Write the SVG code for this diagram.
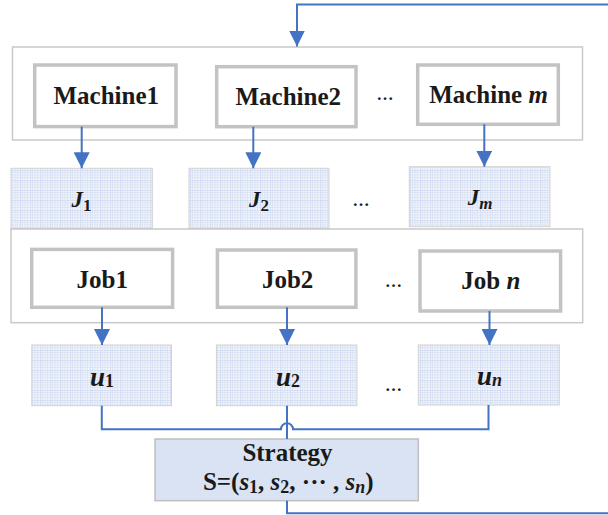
<svg xmlns="http://www.w3.org/2000/svg" width="608" height="515" viewBox="0 0 608 515">
  <defs>
    <style>
      .frame { fill: #ffffff; stroke: #c9c9c9; stroke-width: 1.5; }
      .unit { fill: #ffffff; stroke: #c3c3c3; stroke-width: 3.5; }
      .grid { fill: url(#mesh); stroke: #d2d2d2; stroke-width: 1; }
      .strat { fill: #dae3f3; stroke: #bfbfbf; stroke-width: 1.5; }
      .lbl { font-family: 'Liberation Serif', 'Times New Roman', serif; font-weight: bold; fill: #1a1a1a; text-anchor: middle; }
      .big { font-size: 25px; }
      .var { font-size: 23px; font-style: italic; }
      .uvar { font-size: 27px; font-style: italic; }
      .dots { font-family: 'Liberation Serif', serif; font-weight: bold; font-size: 17px; fill: #1a1a1a; text-anchor: middle; }
      .wire { fill: none; stroke: #4472c4; stroke-width: 2; }
      .arrow { fill: none; stroke: #4472c4; stroke-width: 2; marker-end: url(#head); }
    </style>
    <marker id="head" viewBox="0 0 16 16" refX="16" refY="8" markerWidth="16" markerHeight="16" markerUnits="userSpaceOnUse" orient="auto">
      <path d="M0,0 L16,8 L0,16 Z" fill="#4472c4"/>
    </marker>
    <!-- fine blue mesh used by the J and u blocks -->
    <pattern id="mesh" width="10" height="10" patternUnits="userSpaceOnUse">
      <rect width="10" height="10" fill="#eff3fb"/>
      <path d="M2.5,0 V10 M5,0 V10 M7.5,0 V10 M0,2.5 H10 M0,5 H10 M0,7.5 H10" stroke="#d3ddf1" stroke-width="0.6"/>
      <path d="M0,0 V10 M0,0 H10" stroke="#bfcdea" stroke-width="0.9"/>
    </pattern>
  </defs>

  <!-- machine layer -->
  <g id="machine-layer">
    <rect class="frame" x="12.5" y="47" width="570" height="93"/>
  </g>
  <g id="machine1">
    <rect class="unit" x="34.7" y="65" width="141.3" height="61.6"/>
    <text class="lbl big" x="106.3" y="104">Machine1</text>
  </g>
  <g id="machine2">
    <rect class="unit" x="216.7" y="66.7" width="139.3" height="60"/>
    <text class="lbl big" x="288.3" y="105">Machine2</text>
  </g>
  <text class="dots" x="385" y="100">…</text>
  <g id="machine-m">
    <rect class="unit" x="417.7" y="65" width="140.6" height="59.3"/>
    <text class="lbl big" x="488.5" y="103.3">Machine <tspan font-style="italic">m</tspan></text>
  </g>

  <!-- job queues J -->
  <g id="j1">
    <rect class="grid" x="11" y="168.3" width="141.3" height="60"/>
    <text class="lbl var" x="81.5" y="206.7">J<tspan font-style="normal" font-size="17" dy="4">1</tspan></text>
  </g>
  <g id="j2">
    <rect class="grid" x="189" y="168.3" width="140" height="60"/>
    <text class="lbl var" x="259" y="206.7">J<tspan font-style="normal" font-size="17" dy="4">2</tspan></text>
  </g>
  <text class="dots" x="361" y="206">…</text>
  <g id="jm">
    <rect class="grid" x="409.3" y="166.7" width="140.7" height="60"/>
    <text class="lbl var" x="480" y="205">J<tspan font-size="17" dy="4">m</tspan></text>
  </g>

  <!-- job layer -->
  <g id="job-layer">
    <rect class="frame" x="11" y="229" width="571.7" height="93.7"/>
  </g>
  <g id="job1">
    <rect class="unit" x="31.7" y="249.4" width="140.9" height="57.9"/>
    <text class="lbl big" x="102.2" y="287.7">Job1</text>
  </g>
  <g id="job2">
    <rect class="unit" x="217.4" y="250" width="138.5" height="57.3"/>
    <text class="lbl big" x="287.6" y="288.3">Job2</text>
  </g>
  <text class="dots" x="393.5" y="287">…</text>
  <g id="job-n">
    <rect class="unit" x="420" y="251" width="140.6" height="60"/>
    <text class="lbl big" x="490.8" y="289.3">Job <tspan font-style="italic">n</tspan></text>
  </g>

  <!-- utilities u -->
  <g id="u1">
    <rect class="grid" x="31.8" y="345" width="139.7" height="60.7"/>
    <text class="lbl uvar" x="102" y="386">u<tspan font-style="normal" font-size="18" dy="1">1</tspan></text>
  </g>
  <g id="u2">
    <rect class="grid" x="216.4" y="345" width="140.5" height="60.7"/>
    <text class="lbl uvar" x="288" y="386">u<tspan font-style="normal" font-size="18" dy="1">2</tspan></text>
  </g>
  <text class="dots" x="393.5" y="391">…</text>
  <g id="u-n">
    <rect class="grid" x="418.3" y="345" width="141" height="60"/>
    <text class="lbl uvar" x="489.5" y="385">u<tspan font-size="18" dy="1">n</tspan></text>
  </g>

  <!-- strategy -->
  <g id="strategy">
    <rect class="strat" x="155" y="439" width="263.3" height="61.7"/>
    <text class="lbl big" x="287.5" y="461">Strategy</text>
    <text class="lbl big" x="288.3" y="490">S=(<tspan font-style="italic">s</tspan><tspan font-size="18" dy="3">1</tspan><tspan dy="-3">, </tspan><tspan font-style="italic">s</tspan><tspan font-size="18" dy="3">2</tspan><tspan dy="-3">, ··· , </tspan><tspan font-style="italic">s</tspan><tspan font-size="18" font-style="italic" dy="3">n</tspan><tspan dy="-3">)</tspan></text>
  </g>

  <!-- connectors -->
  <g id="connectors">
    <path class="wire" d="M287,500.7 V513.3 H620 V4.5 H297 V30"/>
    <path class="arrow" d="M297,29 V46.5"/>
    <path class="arrow" d="M81.7,126.6 V168.3"/>
    <path class="arrow" d="M253.3,126.7 V168.3"/>
    <path class="arrow" d="M484.3,124.3 V166.7"/>
    <path class="arrow" d="M102,307.3 V345"/>
    <path class="arrow" d="M287,307.3 V345"/>
    <path class="arrow" d="M489.5,311 V345"/>
    <path class="wire" d="M101.8,405.7 V429.3 H281 A6,6 0 0 1 293,429.3 H488.5 V405"/>
    <path class="wire" d="M287,405.7 V439"/>
  </g>
</svg>
